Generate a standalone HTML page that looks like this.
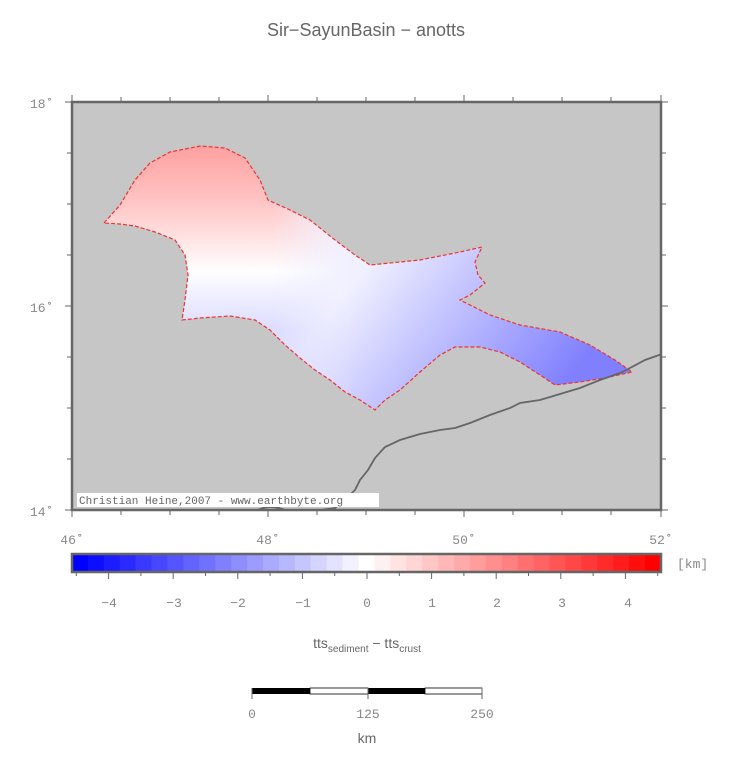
<!DOCTYPE html>
<html><head><meta charset="utf-8"><style>
body{margin:0;background:#fff;width:731px;height:764px;overflow:hidden}
svg text{font-family:"Liberation Mono",monospace;fill:#888;font-size:13px}
</style></head><body>
<svg width="731" height="764" xmlns="http://www.w3.org/2000/svg">
<defs>
<linearGradient id="gv" gradientUnits="userSpaceOnUse" x1="0" y1="146" x2="0" y2="330">
<stop offset="0" stop-color="#ffa0a0"/>
<stop offset="0.3" stop-color="#ffc4c4"/>
<stop offset="0.55" stop-color="#ffeaea"/>
<stop offset="0.68" stop-color="#ffffff"/>
<stop offset="0.8" stop-color="#f0f0ff"/>
<stop offset="1" stop-color="#dcdcff"/>
</linearGradient>
<linearGradient id="gd" gradientUnits="userSpaceOnUse" x1="380" y1="250" x2="560" y2="390">
<stop offset="0" stop-color="#f0f0ff"/>
<stop offset="0.5" stop-color="#b8b8ff"/>
<stop offset="1" stop-color="#8080ff"/>
</linearGradient>
<linearGradient id="mg" gradientUnits="userSpaceOnUse" x1="270" y1="0" x2="350" y2="0">
<stop offset="0" stop-color="#000"/><stop offset="1" stop-color="#fff"/>
</linearGradient>
<mask id="m"><rect x="0" y="0" width="731" height="764" fill="url(#mg)"/></mask>
</defs>
<text x="366" y="36" text-anchor="middle" style="font-family:'Liberation Sans',sans-serif;font-size:18px;fill:#666">Sir−SayunBasin − anotts</text>
<rect x="72" y="102" width="589" height="408" fill="#c6c6c6"/>
<g id="poly">
<polygon id="p1" fill="url(#gv)" points="104,223 120,205 135,180 150,163 170,152 200,146 225,148 245,158 260,180 268,200 290,210 310,220 335,240 355,255 370,265 420,260 460,252 482,247 475,262 478,275 485,283 470,295 460,300 490,315 520,325 560,332 590,345 615,360 632,372 605,378 580,382 555,385 540,375 520,362 500,352 480,347 455,347 440,355 420,372 400,390 385,400 375,410 360,400 345,392 330,380 315,370 300,358 285,345 270,330 255,320 230,316 200,318 182,320 185,300 188,275 185,255 175,240 155,232 135,226 120,224"/>
</g>
<polygon fill="url(#gd)" mask="url(#m)" points="104,223 120,205 135,180 150,163 170,152 200,146 225,148 245,158 260,180 268,200 290,210 310,220 335,240 355,255 370,265 420,260 460,252 482,247 475,262 478,275 485,283 470,295 460,300 490,315 520,325 560,332 590,345 615,360 632,372 605,378 580,382 555,385 540,375 520,362 500,352 480,347 455,347 440,355 420,372 400,390 385,400 375,410 360,400 345,392 330,380 315,370 300,358 285,345 270,330 255,320 230,316 200,318 182,320 185,300 188,275 185,255 175,240 155,232 135,226 120,224"/>
<polygon fill="none" stroke="#ee3333" stroke-width="1.2" stroke-dasharray="4,2" points="104,223 120,205 135,180 150,163 170,152 200,146 225,148 245,158 260,180 268,200 290,210 310,220 335,240 355,255 370,265 420,260 460,252 482,247 475,262 478,275 485,283 470,295 460,300 490,315 520,325 560,332 590,345 615,360 632,372 605,378 580,382 555,385 540,375 520,362 500,352 480,347 455,347 440,355 420,372 400,390 385,400 375,410 360,400 345,392 330,380 315,370 300,358 285,345 270,330 255,320 230,316 200,318 182,320 185,300 188,275 185,255 175,240 155,232 135,226 120,224"/>
<polyline fill="none" stroke="#666" stroke-width="1.8" points="662,354 645,360 630,368 620,373 600,380 580,388 560,394 540,400 520,403 510,408 490,415 470,423 455,428 440,430 420,434 400,440 385,447 375,458 368,470 360,480 355,490 345,500 335,508 320,510"/>
<path d="M258,510 Q270,504 285,510" fill="none" stroke="#666" stroke-width="2"/>
<rect x="77" y="493" width="302" height="14" fill="#fff"/>
<text x="79" y="504" style="font-size:11px;fill:#666">Christian Heine,2007 - www.earthbyte.org</text>
<rect x="72" y="102" width="589" height="408" fill="none" stroke="#666" stroke-width="2.5"/>
<g stroke="#666" stroke-width="1">
<path d="M72,95V102M121,97V102M170,97V102M219,97V102M268,95V102M317,97V102M366,97V102M415,97V102M464,95V102M513,97V102M562,97V102M611,97V102M661,95V102"/>
<path d="M72,510V517M121,510V515M170,510V515M219,510V515M268,510V517M317,510V515M366,510V515M415,510V515M464,510V517M513,510V515M562,510V515M611,510V515M661,510V517"/>
<path d="M65,102H72M67,153H72M67,204H72M67,255H72M65,306H72M67,357H72M67,408H72M67,459H72M65,510H72"/>
<path d="M661,102H668M661,153H666M661,204H666M661,255H666M661,306H668M661,357H666M661,408H666M661,459H666M661,510H668"/>
</g>
<text x="30" y="108">18˚</text><text x="30" y="312">16˚</text><text x="30" y="516">14˚</text>
<text x="72" y="544" text-anchor="middle">46˚</text><text x="268" y="544" text-anchor="middle">48˚</text>
<text x="464" y="544" text-anchor="middle">50˚</text><text x="661" y="544" text-anchor="middle">52˚</text>
<g id="cb"></g>
<rect x="72" y="554" width="589" height="18" fill="none" stroke="#666" stroke-width="2.5"/>
<text x="677" y="568">[km]</text>
<g stroke="#666" stroke-width="1" id="cbt"></g>
<text x="109" y="607" text-anchor="middle">−4</text><text x="174" y="607" text-anchor="middle">−3</text>
<text x="238" y="607" text-anchor="middle">−2</text><text x="303" y="607" text-anchor="middle">−1</text>
<text x="367" y="607" text-anchor="middle">0</text><text x="432" y="607" text-anchor="middle">1</text>
<text x="497" y="607" text-anchor="middle">2</text><text x="562" y="607" text-anchor="middle">3</text>
<text x="628" y="607" text-anchor="middle">4</text>
<text x="367" y="648" text-anchor="middle" style="font-family:'Liberation Sans',sans-serif;font-size:14px;fill:#666">tts<tspan font-size="10" dy="4">sediment</tspan><tspan dy="-4"> − tts</tspan><tspan font-size="10" dy="4">crust</tspan></text>
<rect x="252" y="688" width="58" height="6" fill="#000"/><rect x="310" y="688" width="58" height="6" fill="#fff" stroke="#000" stroke-width="0.8"/>
<rect x="368" y="688" width="57" height="6" fill="#000"/><rect x="425" y="688" width="57" height="6" fill="#fff" stroke="#000" stroke-width="0.8"/>
<path d="M252,688V699M368,688V699M482,688V699" stroke="#666"/>
<text x="252" y="718" text-anchor="middle">0</text><text x="368" y="718" text-anchor="middle">125</text><text x="482" y="718" text-anchor="middle">250</text>
<text x="367" y="743" text-anchor="middle" style="font-family:'Liberation Sans',sans-serif;font-size:14px;fill:#666">km</text>
</svg>
<script>
var g=document.getElementById('cb'),t=document.getElementById('cbt'),ns='http://www.w3.org/2000/svg';
var n=37,w=589/n;
for(var i=0;i<n;i++){var v=-4.5+i*0.25;var f=Math.min(1,Math.abs(v)/4.5);var c=Math.round(255*(1-f));
var col=v<0?'rgb('+c+','+c+',255)':'rgb(255,'+c+','+c+')';
var r=document.createElementNS(ns,'rect');r.setAttribute('x',72+i*w);r.setAttribute('y',554);r.setAttribute('width',w+0.6);r.setAttribute('height',18);r.setAttribute('fill',col);g.appendChild(r);}
for(var k=-9;k<=9;k++){var x=367+k*32.3;if(x<72||x>661)continue;var p=document.createElementNS(ns,'path');p.setAttribute('d','M'+x+',572V'+(k%2==0?579:576));t.appendChild(p);}
</script>
</body></html>
